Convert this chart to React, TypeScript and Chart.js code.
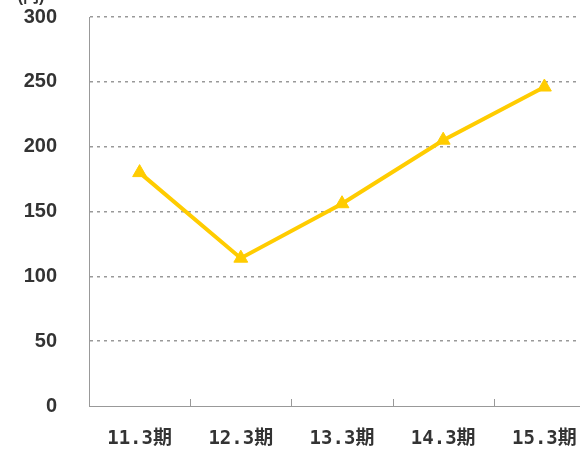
import React, { useEffect, useRef } from "react";
import { Chart, registerables } from "chart.js";

Chart.register(...registerables);

const categories = ["11.3期", "12.3期", "13.3期", "14.3期", "15.3期"];
const values = [180, 114, 156, 205, 246];
const yTicks = [0, 50, 100, 150, 200, 250, 300];
const unitLabel = "(円)";

const extras = {
  id: "extras",
  afterDraw(chart: any) {
    const ctx = chart.ctx;
    const area = chart.chartArea;
    const x = chart.scales.x;
    ctx.save();
    ctx.strokeStyle = "#999";
    ctx.lineWidth = 1;
    for (let i = 1; i < categories.length; i++) {
      const px = Math.round((x.getPixelForTick(i - 1) + x.getPixelForTick(i)) / 2) + 0.5;
      ctx.beginPath();
      ctx.moveTo(px, area.bottom);
      ctx.lineTo(px, area.bottom - 7);
      ctx.stroke();
    }
    ctx.fillStyle = "#333";
    ctx.font = "bold 16px 'Liberation Sans', Arial, 'Noto Sans CJK JP', sans-serif";
    ctx.textAlign = "center";
    ctx.textBaseline = "bottom";
    ctx.fillText(unitLabel, 31, 6);
    ctx.restore();
  },
};

export default function App() {
  const ref = useRef<HTMLCanvasElement | null>(null);
  useEffect(() => {
    document.body.style.margin = "0";
    document.body.style.overflow = "hidden";
    const chart = new Chart(ref.current!, {
      type: "line",
      data: {
        labels: categories,
        datasets: [
          {
            data: values,
            borderColor: "#FFCC00",
            backgroundColor: "#FFCC00",
            borderWidth: 4,
            pointStyle: "triangle",
            pointRadius: 8,
            pointHoverRadius: 8,
            pointBorderWidth: 1,
            tension: 0,
          },
        ],
      },
      options: {
        animation: false,
        responsive: false,
        layout: { padding: { top: 17, right: 6, left: 0, bottom: 0 } },
        plugins: { legend: { display: false }, tooltip: { enabled: false } },
        scales: {
          x: {
            offset: true,
            grid: { display: false, drawTicks: false },
            border: { display: true, color: "#999", width: 1 },
            ticks: {
              color: "#333",
              padding: 22,
              maxRotation: 0,
              autoSkip: false,
              font: { family: "'DejaVu Sans Mono', 'Noto Sans CJK JP', monospace", size: 19, weight: "bold" },
            },
            afterFit(scale: any) {
              scale.height = 43;
            },
          },
          y: {
            min: 0,
            max: 300,
            afterBuildTicks(scale: any) {
              scale.ticks = yTicks.map((v) => ({ value: v }));
            },
            grid: {
              color: (c: any) => (c.tick && c.tick.value === 0 ? "rgba(0,0,0,0)" : "#999"),
              lineWidth: 1.5,
              drawTicks: true,
              tickLength: 30,
              tickColor: "rgba(0,0,0,0)",
            },
            border: { display: true, color: "#999", width: 1, dash: [3, 4] },
            ticks: {
              color: "#333",
              padding: 2,
              font: { family: "'Liberation Sans', Arial, sans-serif", size: 20, weight: "bold" },
            },
            afterFit(scale: any) {
              scale.width = 89;
            },
          },
        },
      },
      plugins: [extras],
    });
    return () => chart.destroy();
  }, []);
  return (
    <div style={{ position: "absolute", left: 0, top: 0, width: 580, height: 449, overflow: "hidden" }}>
      <canvas ref={ref} width={604} height={449} style={{ display: "block" }} />
    </div>
  );
}
